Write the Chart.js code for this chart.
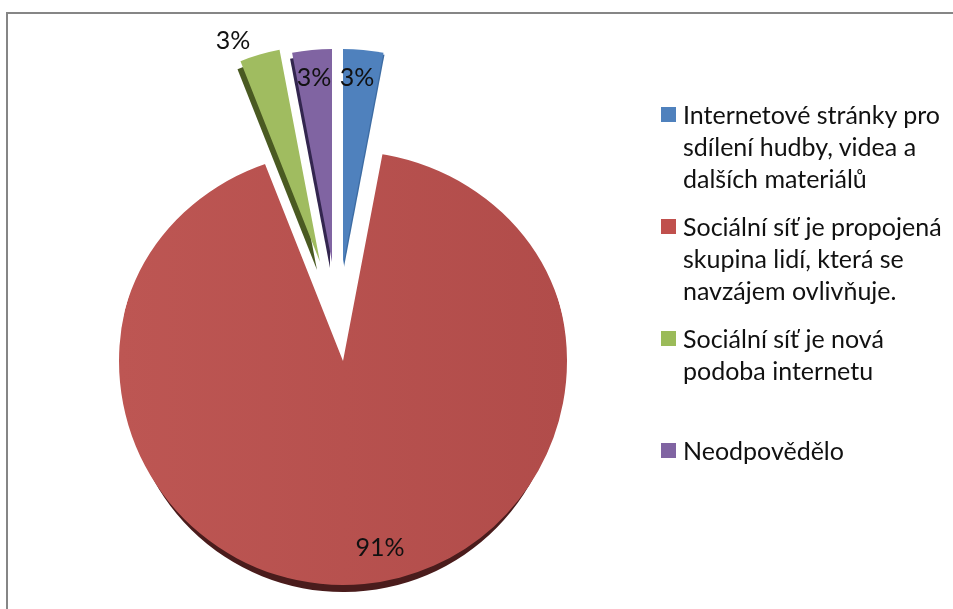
<!DOCTYPE html>
<html>
<head>
<meta charset="utf-8">
<script src="https://cdn.jsdelivr.net/npm/chart.js@4"></script>
<style>
html,body{margin:0;padding:0;background:#fff;overflow:hidden;width:953px;height:609px}
#wrap{position:relative;width:953px;height:609px;overflow:hidden}
#frame{position:absolute;left:6px;top:12px;width:960px;height:620px;border-left:2px solid #868686;border-top:2px solid #868686}
canvas{position:absolute;left:0;top:0}
.lg{position:absolute;left:661px;font:25px/32px Lato,sans-serif;color:#111;white-space:pre}
.lg i{position:absolute;left:0;top:9px;width:15px;height:15px}
.lg span{position:absolute;left:22px;top:0}
</style>
</head>
<body>
<div id="wrap">
<div id="frame"></div>
<canvas id="c" width="953" height="609"></canvas>
</div>
<script>
const categories = [
  "Internetové stránky pro\nsdílení hudby, videa a\ndalších materiálů",
  "Sociální síť je propojená\nskupina lidí, která se\nnavzájem ovlivňuje.",
  "Sociální síť je nová\npodoba internetu",
  "Neodpovědělo"
];
const percentages = [3, 91, 3, 3];
const faceColors = ["#4f81bd", "#b8514f", "#a0bc60", "#8064a2"];
const sideColors = ["#3d6ca3", "#4a1c1c", "#4a5a22", "#33264f"];
const legendColors = ["#4f81bd", "#c0504d", "#9bbb59", "#8064a2"];

// Exploded-slice presentation
const explodeX = [0, 0, -23, -11];
const explodeY = [-96, 0, -99, -99];
const sliceRadius = [216, 224, 216, 213];
const sideRadius = [216, 216, 216, 213];
const sideX = [1, 0, -3, -2];
const sideY = [2, 15, 8, 6];
const labelX = [357, 380, 233, 314];
const labelY = [78, 548, 41, 78];
const legendTop = [98, 210, 322, 434];
const topRadiusY = 210;

const ctx = document.getElementById('c').getContext('2d');
const redGrad = ctx.createLinearGradient(119, 0, 567, 0);
redGrad.addColorStop(0, "#bd5653");
redGrad.addColorStop(1, "#b14c4a");
const fills = faceColors.slice();
fills[1] = redGrad;

function clipSide(c, a) {
  c.beginPath();
  c.rect(a.x - a.outerRadius - 12, a.y, 2 * a.outerRadius + 24, a.outerRadius + 30);
  c.clip();
}
function clipRed(c, a) {
  c.beginPath();
  c.ellipse(a.x, a.y, a.outerRadius + 1, topRadiusY, 0, Math.PI, 2 * Math.PI);
  c.rect(a.x - a.outerRadius - 2, a.y, 2 * a.outerRadius + 4, a.outerRadius + 12);
  c.clip();
}

const explodePlugin = {
  id: 'explode',
  afterDatasetUpdate(chart) {
    chart.getDatasetMeta(0).data.forEach((a, i) => {
      a.x += explodeX[i];
      a.y += explodeY[i];
      a.outerRadius = sliceRadius[i];
      if (i === 1 && !a._patched) {
        const orig = a.draw.bind(a);
        a.draw = function (c, area) {
          c.save(); clipRed(c, a); orig(c, area); c.restore();
        };
        a._patched = true;
      }
    });
  },
  beforeDatasetsDraw(chart) {
    const c = chart.ctx;
    chart.getDatasetMeta(0).data.forEach((a, i) => {
      c.save();
      if (i === 1) clipSide(c, a);
      c.fillStyle = sideColors[i];
      c.beginPath();
      c.moveTo(a.x + sideX[i], a.y + sideY[i]);
      c.arc(a.x + sideX[i], a.y + sideY[i], sideRadius[i], a.startAngle, a.endAngle);
      c.closePath();
      c.fill();
      c.restore();
    });
  },
  afterDatasetsDraw(chart) {
    const c = chart.ctx;
    c.save();
    c.font = '25px Lato, sans-serif';
    c.fillStyle = '#111';
    c.textAlign = 'center';
    c.textBaseline = 'middle';
    percentages.forEach((v, i) => c.fillText(v + '%', labelX[i], labelY[i]));
    c.restore();
  }
};

new Chart(ctx, {
  type: 'pie',
  data: {
    labels: categories,
    datasets: [{
      data: percentages,
      backgroundColor: fills,
      borderWidth: 0,
      clip: false
    }]
  },
  options: {
    responsive: false,
    animation: false,
    events: [],
    layout: { padding: { left: 119, right: 386, top: 137, bottom: 24 } },
    plugins: { legend: { display: false }, tooltip: { enabled: false } }
  },
  plugins: [explodePlugin]
});

const wrap = document.getElementById('wrap');
categories.forEach((t, i) => {
  const d = document.createElement('div');
  d.className = 'lg';
  d.style.top = legendTop[i] + 'px';
  const k = document.createElement('i');
  k.style.background = legendColors[i];
  const s = document.createElement('span');
  s.textContent = t;
  d.appendChild(k); d.appendChild(s);
  wrap.appendChild(d);
});
</script>
</body>
</html>
